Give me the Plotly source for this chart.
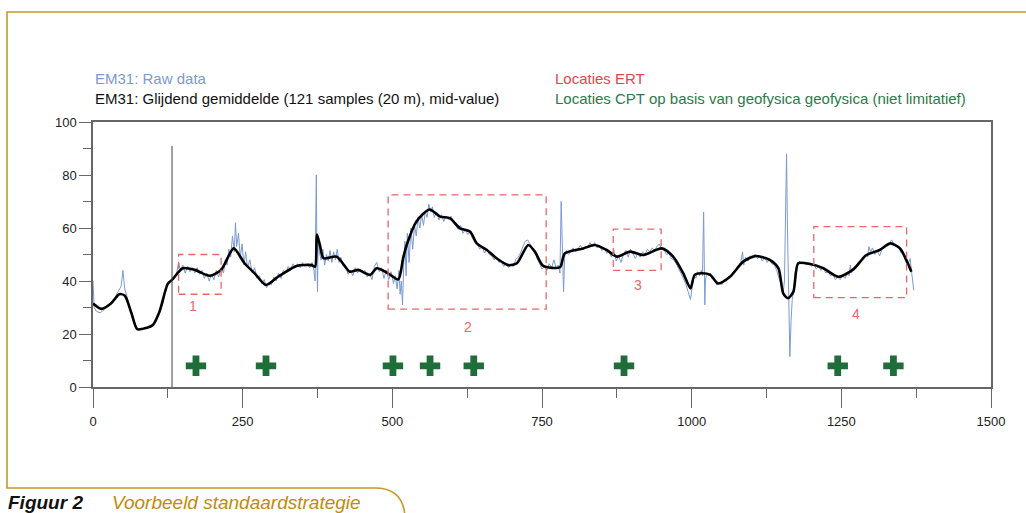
import plotly.graph_objects as go

# ---------------- data ----------------
# Smoothed (moving-average) EM31 curve
smooth_x = [0, 14, 30, 44, 53, 64, 74, 89, 100, 111, 125, 132, 150, 170, 195, 214,
            235, 253, 270, 289, 309, 318, 340, 365, 371, 374, 379, 385, 407, 429, 443, 463,
            474, 493, 510, 518, 524, 540, 562, 580, 596, 613, 630, 641, 658, 674, 694, 708,
            727, 738, 752, 780, 788, 819, 838, 858, 875, 897, 919, 950, 969, 986, 998, 1005,
            1017, 1031, 1044, 1064, 1086, 1106, 1131, 1145, 1153, 1161, 1170, 1178, 1198, 1220,
            1245, 1270, 1292, 1314, 1332, 1348, 1367]
smooth_y = [31.5, 29.5, 31.5, 35.0, 34.5, 28.0, 21.8, 22.3, 23.4, 28.4, 39.0, 40.4, 44.8, 44.2, 42.0, 44.2,
            52.3, 46.7, 42.9, 38.5, 41.6, 42.9, 45.7, 46.0, 45.4, 57.5, 53.6, 48.6, 49.2, 43.5, 44.2, 42.3,
            44.8, 42.9, 40.6, 48.6, 53.6, 62.4, 67.0, 64.3, 63.7, 59.9, 58.6, 54.2, 51.7, 48.6, 46.0, 46.7,
            53.6, 51.1, 45.7, 45.2, 50.4, 52.3, 53.6, 51.7, 49.2, 51.1, 49.8, 52.3, 49.2, 42.9, 37.2, 42.3,
            42.9, 42.3, 39.1, 41.6, 47.3, 49.4, 47.9, 44.8, 35.3, 33.5, 36.0, 46.7, 46.4, 44.8,
            41.6, 44.4, 49.8, 51.7, 54.2, 52.3, 43.5]

# Raw EM31 data
raw_x = [0, 2, 6, 12, 18, 24, 30, 36, 42, 47, 50, 53, 57, 62, 66, 70, 74, 80, 86, 92, 98, 104, 110, 116, 120,
         124, 128, 132, 136, 140, 143, 146, 150, 154, 158, 162, 166, 170, 174, 178, 182, 186, 190, 194, 198,
         202, 206, 210, 214, 218, 221, 224, 227, 230, 233, 236, 238, 240, 243, 246, 249, 252, 255, 258, 262,
         266, 270, 274, 278, 282, 286, 290, 294, 298, 302, 306, 310, 314, 318, 322, 326, 330, 334, 338, 342,
         346, 350, 354, 358, 362, 366, 369, 371, 372, 373, 374, 375, 376, 378, 381, 384, 387, 390, 393, 396,
         399, 402, 405, 408, 411, 414, 418, 422, 426, 430, 434, 438, 442, 446, 450, 454, 458, 462, 466, 470,
         474, 478, 482, 486, 490, 494, 498, 502, 505, 508, 511, 513, 515, 517, 519, 521, 523, 525, 528, 531,
         534, 537, 540, 543, 546, 549, 552, 555, 558, 561, 564, 567, 570, 574, 578, 582, 586, 590, 594, 598,
         602, 606, 610, 614, 618, 622, 626, 630, 634, 638, 642, 646, 650, 654, 658, 662, 666, 670, 674, 678,
         682, 686, 690, 694, 698, 702, 706, 710, 714, 718, 722, 726, 730, 734, 738, 742, 746, 750, 754, 758,
         762, 766, 770, 774, 777, 780, 782, 784, 786, 788, 791, 794, 798, 802, 806, 810, 814, 818, 822, 826,
         830, 834, 838, 842, 846, 850, 854, 858, 862, 866, 870, 874, 878, 882, 886, 890, 894, 898, 902, 906,
         910, 914, 918, 922, 926, 930, 934, 938, 942, 946, 950, 954, 958, 962, 966, 970, 974, 978, 982, 986,
         990, 994, 998, 1001, 1004, 1007, 1010, 1013, 1016, 1018, 1019, 1020, 1021, 1022, 1023, 1025, 1028,
         1031, 1034, 1038, 1042, 1046, 1050, 1054, 1058, 1062, 1066, 1070, 1074, 1078, 1082, 1085, 1087, 1090,
         1094, 1098, 1102, 1106, 1110, 1114, 1118, 1122, 1126, 1130, 1134, 1138, 1142, 1146, 1150, 1153, 1155,
         1157, 1158.5, 1160, 1162, 1164, 1166, 1168, 1171, 1174, 1177, 1180, 1184, 1188, 1192, 1196, 1200,
         1204, 1208, 1212, 1216, 1220, 1224, 1228, 1232, 1236, 1240, 1244, 1248, 1252, 1256, 1260, 1263, 1265,
         1267, 1270, 1274, 1278, 1282, 1286, 1290, 1294, 1296, 1299, 1302, 1306, 1310, 1314, 1318, 1322, 1326,
         1330, 1334, 1338, 1342, 1346, 1350, 1354, 1358, 1362, 1365, 1367, 1369, 1371]
raw_y = [40, 30, 28.5, 28, 29, 30.5, 32, 33.5, 36, 38, 44, 37, 34, 29, 26, 23, 21.5, 21.8, 22, 22.5, 23, 24.5, 27.5, 31, 35,
         39, 40, 40.5, 41, 43.5, 47, 44, 46, 43, 45.5, 43.5, 45, 43, 45, 42.5, 44, 41, 43, 40, 42.5,
         40.5, 44, 41.5, 45, 43, 48, 46, 52, 49, 57, 51, 62, 53, 58, 49, 54, 46, 51, 45, 48,
         43, 45, 41, 42, 39, 40.5, 37.5, 39.5, 38.5, 41.5, 40, 43, 41, 44, 43, 45.5, 44, 46.5, 45, 46.5,
         45, 47, 45.5, 46.5, 45, 47, 44, 40, 62, 80, 50, 36, 55, 51, 48, 52, 46, 50, 47.5, 51.5,
         47, 51, 48, 52, 47, 49, 45.5, 46, 42.5, 44, 42, 45, 43, 44.5, 43, 44, 41.5, 43, 40.5, 45.5,
         47, 43.5, 45, 41, 44, 40.5, 43.5, 39, 42, 37, 44, 35, 40, 31, 46, 55, 42, 58, 47, 60,
         52, 61, 57, 64, 60, 65, 61, 66, 64, 69, 66, 68, 64, 66, 63, 65, 62.5, 64.5, 63, 64.5,
         62, 61, 59.5, 61, 58, 59.5, 57.5, 58.5, 56, 55, 54, 52, 53, 50.5, 52, 50, 49.5, 48, 49, 47,
         47.5, 45.5, 46.5, 45, 46, 45.5, 48, 49, 50.5, 53, 55, 55.5, 54, 52, 51, 48.5, 46.5, 44.5, 45.5, 44,
         46.5, 45, 48, 44.5, 46, 43, 70, 48, 36, 50, 51.5, 50, 51, 52.5, 51, 52, 53.5, 52, 53, 52.5,
         54.5, 53, 54.5, 52.5, 53.5, 51.5, 52.5, 50.5, 51, 49, 51.5, 47.5, 49.5, 47, 50, 51.5, 49, 52, 50, 48.5,
         50.5, 49, 51, 50, 52, 51, 52.5, 51.5, 53, 54, 52, 51.5, 50, 50.5, 48.5, 48, 46.5, 45, 43, 41,
         39, 36, 33, 38, 42, 41, 43.5, 42, 44, 42, 56, 66, 48, 31, 40, 43, 42,
         43, 41, 40.5, 38.5, 39.5, 38.5, 40.5, 40, 41.5, 42, 43.5, 44, 45.5, 47, 51, 46, 49,
         47.5, 49.5, 48.5, 50, 48.5, 49.5, 47.5, 49, 47, 48.5, 46.5, 46, 44, 41, 38, 36, 40,
         65, 88, 60, 35, 11.5, 25, 33, 37, 42, 46, 47.5, 46.5, 47, 46, 47, 45.5,
         46.5, 44.5, 45.5, 44, 45, 43, 43.5, 42, 42.5, 40.5, 41.5, 40.5, 42, 41, 43, 42, 46,
         43, 45, 45.5, 47, 47.5, 49, 50, 49, 53, 51, 52.5, 50, 51.5, 49.5, 52, 52.5, 53.5,
         54, 55.5, 54, 53, 52.5, 50.5, 49.5, 47, 46.5, 48.5, 44, 40, 36.5]

# ERT locations (dashed boxes)
ert_labels = ["1", "2", "3", "4"]
ert_x0 = [143, 493, 869, 1204]
ert_x1 = [214, 757, 949, 1359]
ert_y0 = [35, 29.4, 44, 33.7]
ert_y1 = [50, 72.5, 59.6, 60.5]
ert_label_x = [167, 626, 910, 1274]
ert_label_y = [30.5, 22.6, 38.5, 27.5]

# CPT locations (green crosses)
cpt_x = [172, 289, 501, 563, 636, 887, 1244, 1337]
cpt_y = [8, 8, 8, 8, 8, 8, 8, 8]

# start marker line
divider_x = 132
divider_top = 91

x_ticks = [0, 250, 500, 750, 1000, 1250, 1500]
y_ticks = [0, 20, 40, 60, 80, 100]

# ---------------- styling ----------------
W, H = 1026, 513
L, R, T, B = 93, 991, 122, 387  # plot area in pixels
FONT = "Liberation Sans, Arial, sans-serif"
RAW_COL = "#7b9ad2"
RED = "#e8686a"
GREEN = "#1f6e3a"
GOLD = "#c8982a"
AX = "#666666"


def px(xp):
    return (xp - L) / (R - L)


def py(yp):
    return (B - yp) / (B - T)


fig = go.Figure()

fig.add_trace(go.Scatter(x=raw_x, y=raw_y, mode="lines",
                         line=dict(color=RAW_COL, width=1), hoverinfo="skip", showlegend=False))
fig.add_trace(go.Scatter(x=smooth_x, y=smooth_y, mode="lines",
                         line=dict(color="black", width=2.6, shape="spline", smoothing=0.7),
                         showlegend=False))
fig.add_trace(go.Scatter(x=cpt_x, y=cpt_y, mode="markers",
                         marker=dict(symbol="cross", size=17, color=GREEN, line=dict(width=0)),
                         showlegend=False))

shapes = []
for x0, x1, y0, y1 in zip(ert_x0, ert_x1, ert_y0, ert_y1):
    shapes.append(dict(type="rect", xref="x", yref="y", x0=x0, x1=x1, y0=y0, y1=y1,
                       line=dict(color=RED, width=1.3, dash="7px,5px"), fillcolor="rgba(0,0,0,0)"))
shapes.append(dict(type="line", xref="x", yref="y", x0=divider_x, x1=divider_x, y0=0, y1=divider_top,
                   line=dict(color="#444444", width=1)))

# gold page frame with rounded caption tab
path = (f"M {px(1040)},{py(12)} L {px(7)},{py(12)} L {px(7)},{py(488)} L {px(375)},{py(488)} "
        f"C {px(393)},{py(488)} {px(405)},{py(497)} {px(405)},{py(520)}")
shapes.append(dict(type="path", xref="paper", yref="paper", path=path,
                   line=dict(color=GOLD, width=1.6)))

annotations = []
for lab, lx, ly in zip(ert_labels, ert_label_x, ert_label_y):
    annotations.append(dict(x=lx, y=ly, xref="x", yref="y", text=lab, showarrow=False,
                            font=dict(family=FONT, size=14, color=RED)))

legend_items = [
    ("EM31: Raw data", 93, 78, RAW_COL),
    ("EM31: Glijdend gemiddelde (121 samples (20 m), mid-value)", 93, 98, "#111111"),
    ("Locaties ERT", 553, 78, "#e0474c"),
    ("Locaties CPT op basis van geofysica geofysica (niet limitatief)", 553, 98, "#2d7a4a"),
]
for txt, xp, yp, col in legend_items:
    annotations.append(dict(x=px(xp), y=py(yp), xref="paper", yref="paper", text=txt,
                            showarrow=False, xanchor="left", yanchor="middle",
                            font=dict(family=FONT, size=15, color=col)))

annotations.append(dict(x=px(6), y=py(515), xref="paper", yref="paper",
                        text="<b><i>Figuur 2</i></b>", showarrow=False, xanchor="left", yanchor="bottom",
                        font=dict(family=FONT, size=19, color="#111111")))
annotations.append(dict(x=px(110), y=py(515), xref="paper", yref="paper",
                        text="<i>Voorbeeld standaardstrategie</i>", showarrow=False,
                        xanchor="left", yanchor="bottom",
                        font=dict(family=FONT, size=19, color="#c08a10")))

fig.update_layout(
    width=W, height=H, autosize=False,
    margin=dict(l=L, r=W - R, t=T, b=H - B, pad=0),
    paper_bgcolor="white", plot_bgcolor="white",
    shapes=shapes, annotations=annotations,
    font=dict(family=FONT, size=13, color="#222222"),
    hovermode=False,
)
fig.update_xaxes(range=[0, 1500], tickvals=x_ticks, ticks="outside", ticklen=19, tickwidth=1.2,
                 tickcolor=AX, showline=True, linecolor=AX, linewidth=1.5, mirror=True,
                 showgrid=False, zeroline=False, tickfont=dict(size=13, color="#222222"),
                 ticklabelstandoff=3,
                 minor=dict(dtick=125, ticks="outside", ticklen=9, tickcolor=AX, tickwidth=1.2))
fig.update_yaxes(range=[0, 100], tickvals=y_ticks, ticks="outside", ticklen=12, tickwidth=1.2,
                 tickcolor=AX, showline=True, linecolor=AX, linewidth=1.5, mirror=True,
                 showgrid=False, zeroline=False, tickfont=dict(size=13, color="#222222"),
                 minor=dict(dtick=10, ticks="outside", ticklen=8, tickcolor=AX, tickwidth=1.2))

fig.write_html("out.html", config={"displayModeBar": False},
               post_script="document.body.style.margin='0px';document.body.style.overflow='hidden';")
